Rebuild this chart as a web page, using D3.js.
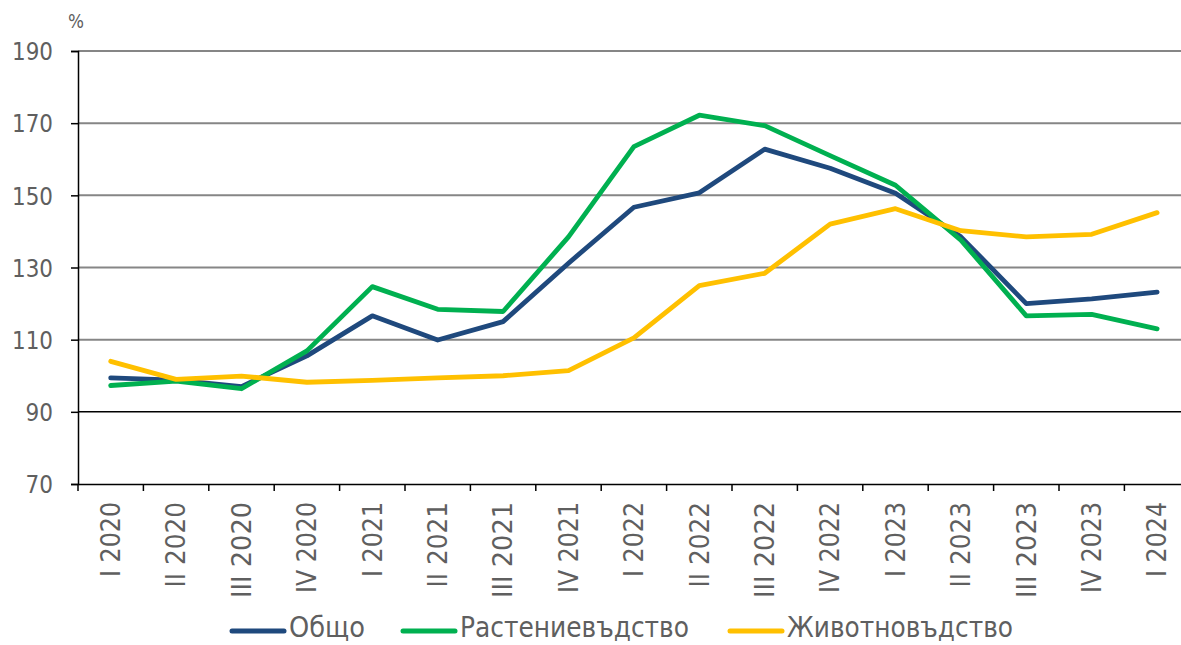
<!DOCTYPE html>
<html><head><meta charset="utf-8">
<script src="https://cdn.jsdelivr.net/npm/d3@7"></script>
<style>body{margin:0;background:#fff;} svg{display:block;}</style>
</head><body>
<svg id="c" width="1181" height="645"></svg>
<script>
const categories = ["I 2020","II 2020","III 2020","IV 2020","I 2021","II 2021","III 2021","IV 2021","I 2022","II 2022","III 2022","IV 2022","I 2023","II 2023","III 2023","IV 2023","I 2024"];
const total = [99.4,98.8,97.0,105.5,116.6,109.9,115.0,131.2,146.7,150.7,162.8,157.5,150.6,138.5,120.0,121.3,123.2];
const crops = [97.3,98.5,96.4,106.9,124.7,118.4,117.8,138.5,163.5,172.2,169.3,161.0,152.8,137.6,116.6,117.0,113.0];
const livestock = [104.0,99.0,99.9,98.2,98.7,99.4,100.0,101.4,110.5,125.0,128.4,142.0,146.3,140.2,138.5,139.2,145.2];
const seriesNames = ["Общо","Растениевъдство","Животновъдство"];
const seriesColors = ["#1F497D","#00B050","#FFC000"];
const yTicks = [70,90,110,130,150,170,190];

(function(){
const svg = d3.select("#c");
const pLeft = 78, pTop = 51, pBottom = 484, step = 65.4;
const pRight = pLeft + step*categories.length;
const x = d3.scaleBand().domain(categories).range([pLeft, pRight]).padding(0);
const y = d3.scaleLinear().domain([70,190]).range([pBottom, pTop]);
const font = "'DejaVu Sans', Verdana, sans-serif";
const txt = "#5f5f5f";

// gridlines
svg.append("g").selectAll("line").data(yTicks.filter(v=>v>70)).join("line")
  .attr("x1", pLeft).attr("x2", 1181)
  .attr("y1", d=>y(d)).attr("y2", d=>y(d))
  .attr("stroke", d=> d===90 ? "#000" : "#868686")
  .attr("stroke-width", d=> d===90 ? 1.5 : 2);

// y axis
const ya = svg.append("g").attr("transform",`translate(${pLeft},0)`)
  .call(d3.axisLeft(y).tickValues(yTicks).tickSize(7).tickPadding(18));
ya.select(".domain").attr("stroke","#000").attr("stroke-width",1.5);
ya.selectAll(".tick line").attr("stroke","#000").attr("stroke-width",1.5);
ya.selectAll("text").attr("font-family",font).attr("font-size",24.5).attr("fill",txt).attr("dy","0.36em")
  .attr("textLength", d=> String(d).length===3 ? 41 : 27.5).attr("lengthAdjust","spacingAndGlyphs");

// x axis
const xa = svg.append("g").attr("transform",`translate(0,${pBottom})`)
  .call(d3.axisBottom(x).tickSize(0).tickFormat(d=>d));
xa.select(".domain").attr("stroke","#000").attr("stroke-width",1.5);
xa.selectAll(".tick text")
  .attr("font-family",font).attr("font-size",26).attr("fill",txt)
  .attr("text-anchor","end").attr("transform","rotate(-90)")
  .attr("x",-18).attr("y",0).attr("dy","0.36em")
  .attr("textLength", d=>{ const r=d.split(" ")[0]; return 64.5 + 10.5*(r.split("I").length-1) + 16*(r.split("V").length-1); })
  .attr("lengthAdjust","spacingAndGlyphs");
// tick marks at band boundaries
svg.append("g").selectAll("line").data(d3.range(categories.length+1)).join("line")
  .attr("x1", i=>pLeft+i*step).attr("x2", i=>pLeft+i*step)
  .attr("y1", pBottom).attr("y2", pBottom+7)
  .attr("stroke","#000").attr("stroke-width",1.5);

svg.append("text").attr("x",68).attr("y",28).attr("font-family",font).attr("font-size",20)
  .attr("textLength",16).attr("lengthAdjust","spacingAndGlyphs").attr("fill",txt).text("%");

// lines
const data = [total, crops, livestock];
const line = d3.line().x((d,i)=>x(categories[i])+x.bandwidth()/2).y(d=>y(d));
data.forEach((s,k)=>{
  svg.append("path").datum(s).attr("d",line).attr("fill","none")
    .attr("stroke",seriesColors[k]).attr("stroke-width",4.8)
    .attr("stroke-linejoin","round").attr("stroke-linecap","round");
});

// legend
const legX = [230,401,728];
const legW = [76,229,226];
seriesNames.forEach((n,k)=>{
  svg.append("line").attr("x1",legX[k]+2).attr("x2",legX[k]+54).attr("y1",631).attr("y2",631)
    .attr("stroke",seriesColors[k]).attr("stroke-width",5).attr("stroke-linecap","round");
  svg.append("text").attr("x",legX[k]+59).attr("y",637)
    .attr("font-family",font).attr("font-size",27.5)
    .attr("fill",txt).attr("textLength",legW[k]).attr("lengthAdjust","spacingAndGlyphs").text(n);
});
})();
</script>
</body></html>
